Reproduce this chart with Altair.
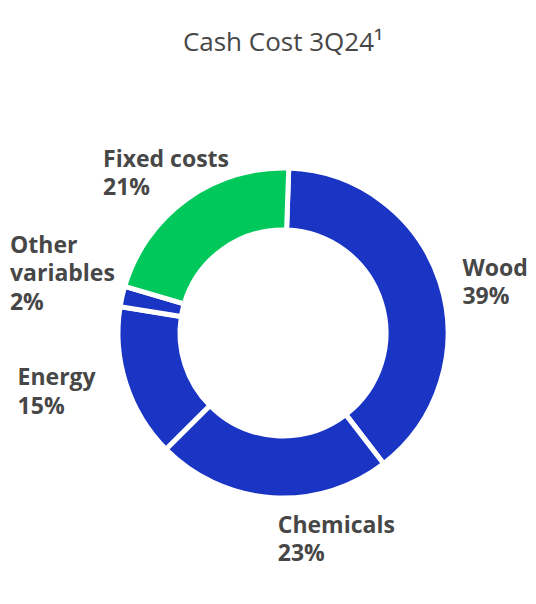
import altair as alt
import pandas as pd
import math

categories = ["Wood", "Chemicals", "Energy", "Other variables", "Fixed costs"]
label_names = ["Wood", "Chemicals", "Energy", "Other\nvariables", "Fixed costs"]
values = [39, 23, 15, 2, 21]
groups = ["Variable", "Variable", "Variable", "Variable", "Fixed"]

df = pd.DataFrame({
    "order": list(range(len(categories))),
    "category": categories,
    "name": label_names,
    "value": values,
    "group": groups,
})

BLUE = "#1a34c4"
GREEN = "#00c85b"
TEXT = "#474747"
FONT = "Open Sans"

start_angle = math.radians(2)
theta_scale = alt.Scale(domain=[0, 100], range=[start_angle, start_angle + 2 * math.pi])

base = alt.Chart(df).transform_window(
    cum="sum(value)", sort=[alt.SortField("order")], frame=[None, 0]
).transform_calculate(
    start="datum.cum - datum.value",
    mid="datum.cum - datum.value / 2",
    label="datum.name + '\\n' + datum.value + '%'",
)

arcs = base.mark_arc(outerRadius=165, innerRadius=103, stroke="white", strokeWidth=5).encode(
    theta=alt.Theta("start:Q", scale=theta_scale),
    theta2="cum:Q",
    color=alt.Color("group:N", scale=alt.Scale(domain=["Variable", "Fixed"], range=[BLUE, GREEN]), legend=None),
)

offsets = {
    "Wood": (-11, 4),
    "Chemicals": (8, 0),
    "Energy": (-75, -9),
    "Other variables": (-78, -36),
    "Fixed costs": (-63, -4),
}

layers = [arcs]
for cat in categories:
    dx, dy = offsets[cat]
    layers.append(
        base.transform_filter(alt.datum.category == cat).mark_text(
            radius=200, align="left", baseline="alphabetic", dx=dx, dy=dy,
            font=FONT, fontSize=23, fontWeight="bold", color=TEXT,
            lineBreak="\n", lineHeight=28.5,
        ).encode(
            theta=alt.Theta("mid:Q", scale=theta_scale),
            text="label:N",
        )
    )

chart = alt.layer(*layers).properties(
    width=490,
    height=526,
    autosize=alt.AutoSizeParams(type="none"),
    padding={"left": 30, "top": 62, "right": 0, "bottom": 0},
    title=alt.TitleParams(
        "Cash Cost 3Q24¹", anchor="middle", font=FONT, fontSize=26,
        fontWeight="normal", color=TEXT, offset=14,
    ),
).configure_view(stroke=None)

chart.save("out.html", embed_options={"renderer": "svg", "actions": False})
